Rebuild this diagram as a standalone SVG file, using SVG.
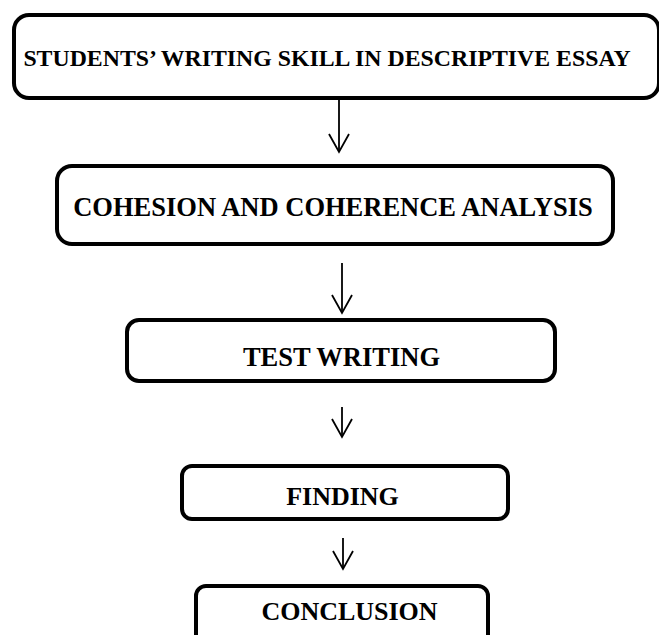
<svg xmlns="http://www.w3.org/2000/svg" width="659" height="635" viewBox="0 0 659 635">
  <style>
    .box { fill: #ffffff; stroke: #000000; stroke-width: 4; }
    .label { font-family: "Liberation Serif", "Times New Roman", serif; font-weight: bold; fill: #000000; text-anchor: middle; }
    .link { fill: none; stroke: #000000; stroke-width: 1.8; marker-end: url(#openHead); }
  </style>
  <defs>
    <marker id="openHead" markerUnits="userSpaceOnUse" markerWidth="40" markerHeight="40" refX="0" refY="0" orient="auto" overflow="visible">
      <path d="M-18,-10 L0,0 L-18,10" fill="none" stroke="#000000" stroke-width="1.8" stroke-linejoin="miter"/>
    </marker>
  </defs>

  <rect width="659" height="635" fill="#ffffff"/>

  <g id="connectors">
    <line class="link" x1="339" y1="99" x2="339" y2="152"/>
    <line class="link" x1="342" y1="263" x2="342" y2="313"/>
    <line class="link" x1="342" y1="407" x2="342" y2="437"/>
    <line class="link" x1="343" y1="538" x2="343" y2="569"/>
  </g>

  <g id="node-students-writing">
    <rect class="box" x="14" y="15" width="645" height="83" rx="15"/>
    <text class="label" x="327" y="65.5" font-size="23.8">STUDENTS’ WRITING SKILL IN DESCRIPTIVE ESSAY</text>
  </g>

  <g id="node-cohesion">
    <rect class="box" x="57" y="166" width="556" height="78" rx="15"/>
    <text class="label" x="333" y="216" font-size="26.5">COHESION AND COHERENCE ANALYSIS</text>
  </g>

  <g id="node-test-writing">
    <rect class="box" x="127" y="320" width="428" height="61" rx="12"/>
    <text class="label" x="341.5" y="366" font-size="26.5">TEST WRITING</text>
  </g>

  <g id="node-finding">
    <rect class="box" x="182" y="466" width="326" height="53" rx="10"/>
    <text class="label" x="342.5" y="505" font-size="26">FINDING</text>
  </g>

  <g id="node-conclusion">
    <rect class="box" x="196" y="586" width="292" height="60" rx="10"/>
    <text class="label" x="349.5" y="620" font-size="26">CONCLUSION</text>
  </g>
</svg>
